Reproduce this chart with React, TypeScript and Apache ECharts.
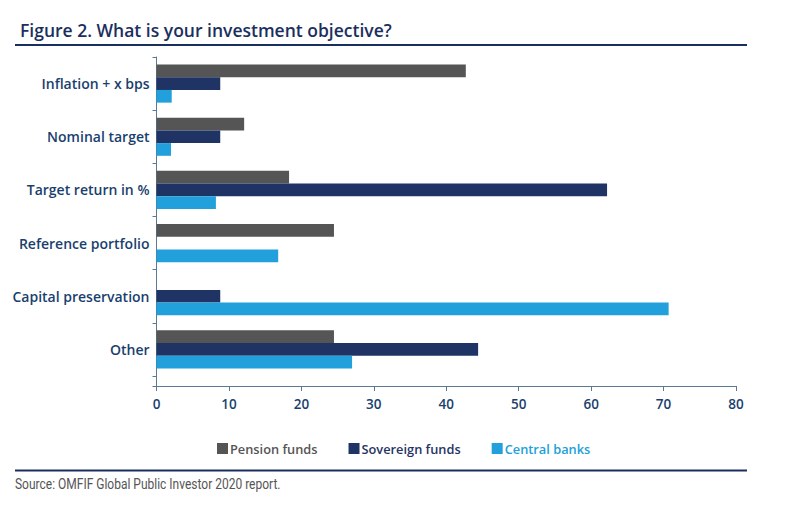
import React, { useEffect, useRef } from "react";
import * as echarts from "echarts";

const categories = [
  "Inflation + x bps",
  "Nominal target",
  "Target return in %",
  "Reference portfolio",
  "Capital preservation",
  "Other",
];
const pensionFunds: (number | null)[] = [42.7, 12.1, 18.3, 24.5, null, 24.5];
const sovereignFunds: (number | null)[] = [8.8, 8.8, 62.2, null, 8.8, 44.4];
const centralBanks: (number | null)[] = [2.1, 2.0, 8.2, 16.8, 70.7, 27.0];
const xTicks = { min: 0, max: 80, interval: 10 };

const C_PENSION = "#555555";
const C_SOV = "#1f3464";
const C_CB = "#21a0db";
const NAVY = "#1b2f5e";
const LABEL = "#1a3f6e";
const AXIS = "#5b7895";
const FONT = "'Open Sans', 'Noto Sans', sans-serif";

export default function App() {
  const ref = useRef<HTMLDivElement>(null);
  useEffect(() => {
    if (!ref.current) return;
    const chart = echarts.init(ref.current, null, { renderer: "svg" });
    const gridLeft = 156.5;
    const gridTop = 57;
    const gridBottomY = 376;
    chart.setOption({
      animation: false,
      backgroundColor: "#ffffff",
      textStyle: { fontFamily: FONT },
      grid: { left: gridLeft, right: 64, top: gridTop, height: gridBottomY - gridTop },
      title: {
        text: "Figure 2. What is your investment objective?",
        left: 15,
        top: 16,
        textStyle: { fontFamily: FONT, fontSize: 17.5, fontWeight: 600, color: NAVY },
      },
      legend: {
        left: 217,
        top: 442,
        padding: 0,
        icon: "rect",
        itemWidth: 11,
        itemHeight: 11,
        itemGap: 31,
        textStyle: { fontFamily: FONT, fontSize: 12.8, fontWeight: 600, padding: [0, 0, 0, -3] },
        data: [
          { name: "Pension funds", textStyle: { color: C_PENSION } },
          { name: "Sovereign funds", textStyle: { color: C_SOV } },
          { name: "Central banks", textStyle: { color: C_CB } },
        ],
      },
      xAxis: {
        type: "value",
        min: xTicks.min,
        max: xTicks.max,
        interval: xTicks.interval,
        offset: 10,
        splitLine: { show: false },
        axisLine: { show: true, lineStyle: { color: AXIS, width: 1 } },
        axisTick: { show: true, length: 5, lineStyle: { color: AXIS } },
        axisLabel: { color: LABEL, fontSize: 13.5, fontWeight: 600, margin: 11, fontFamily: FONT },
      },
      yAxis: {
        type: "category",
        inverse: true,
        data: categories,
        axisLine: { show: true, lineStyle: { color: AXIS, width: 1 } },
        axisTick: { show: true, length: 4, lineStyle: { color: AXIS } },
        axisLabel: { color: LABEL, fontSize: 14, fontWeight: 600, margin: 7, fontFamily: FONT },
      },
      series: [
        { name: "Pension funds", type: "bar", data: pensionFunds, itemStyle: { color: C_PENSION }, barWidth: 12.7, barGap: "0%" },
        { name: "Sovereign funds", type: "bar", data: sovereignFunds, itemStyle: { color: C_SOV }, barWidth: 12.7, barGap: "0%" },
        { name: "Central banks", type: "bar", data: centralBanks, itemStyle: { color: C_CB }, barWidth: 12.7, barGap: "0%" },
      ],
      graphic: [
        { type: "line", shape: { x1: 15, y1: 45, x2: 747, y2: 45 }, style: { stroke: NAVY, lineWidth: 2 } },
        { type: "line", shape: { x1: gridLeft, y1: gridBottomY, x2: gridLeft, y2: 386.5 }, style: { stroke: AXIS, lineWidth: 1 } },
        { type: "line", shape: { x1: gridLeft - 4, y1: 386.5, x2: gridLeft, y2: 386.5 }, style: { stroke: AXIS, lineWidth: 1 } },
        { type: "line", shape: { x1: 15, y1: 470.5, x2: 747, y2: 470.5 }, style: { stroke: NAVY, lineWidth: 2 } },
        {
          type: "text",
          x: 15,
          y: 476,
          scaleX: 0.8,
          style: {
            text: "Source: OMFIF Global Public Investor 2020 report.",
            fontFamily: "Roboto, sans-serif",
            fontSize: 15,
            fill: "#555555",
          },
        },
      ],
    });
    return () => chart.dispose();
  }, []);
  return <div ref={ref} style={{ position: "absolute", left: 0, top: 0, width: 800, height: 505 }} />;
}
